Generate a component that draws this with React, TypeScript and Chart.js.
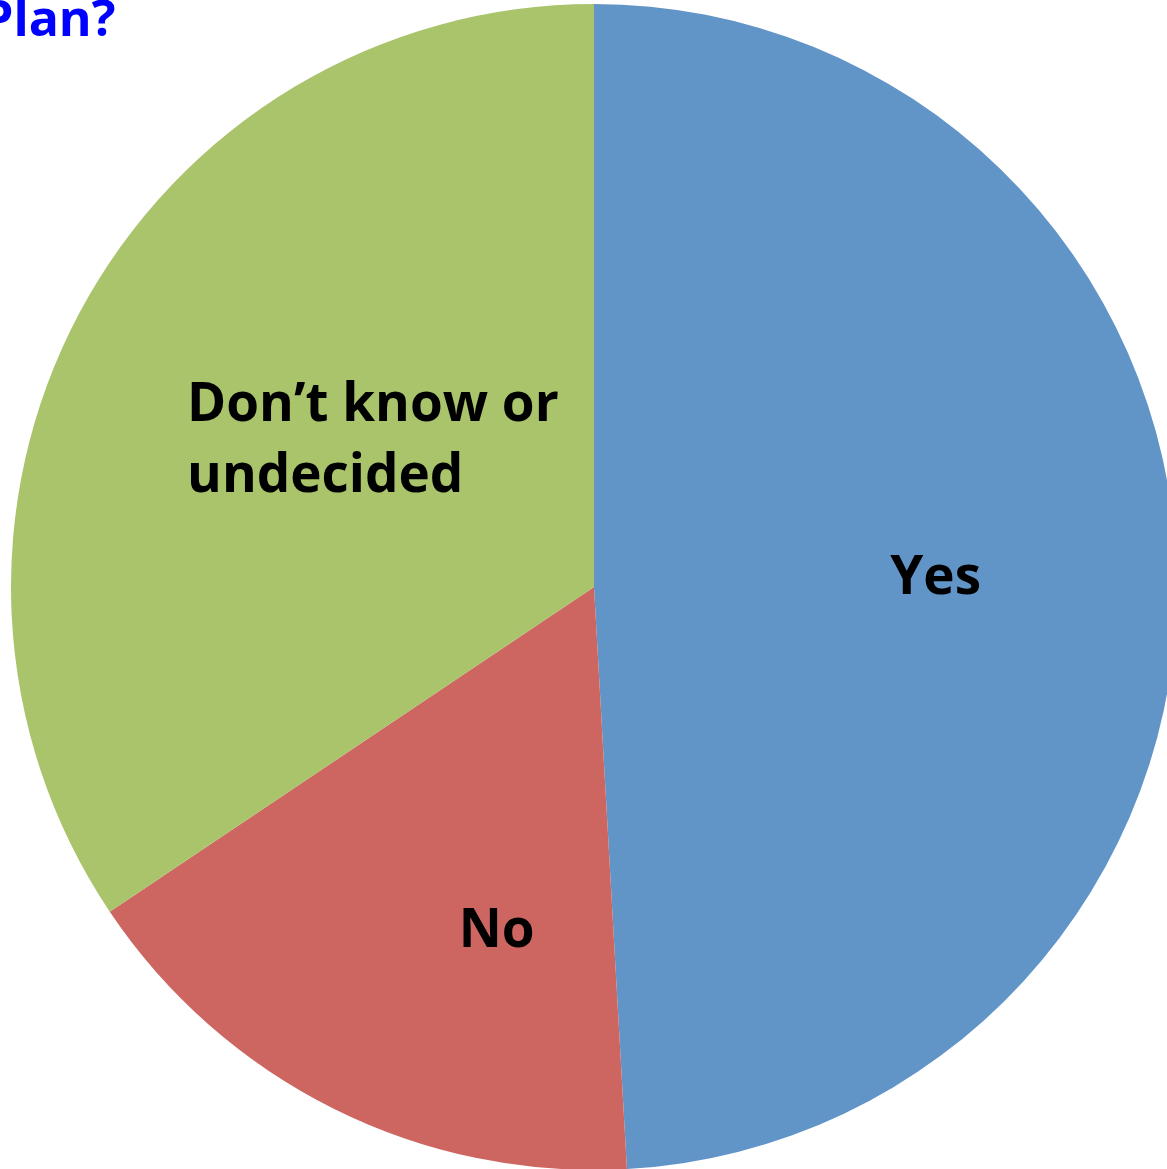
import React, { useEffect, useRef } from "react";
import { Chart, registerables } from "chart.js";

Chart.register(...registerables);

const categories = ["Yes", "No", "Don\u2019t know or undecided"];
const values = [49.1, 16.5, 34.4];
const colors = ["#6194C7", "#CD6660", "#AAC46C"];
const labelLines = [["Yes"], ["No"], ["Don\u2019t know or", "undecided"]];
const titleText = "Plan?";

// label placement (relative to pie center, fractions of radius)
const labelPos = [
  { dx: 0.586, dy: -0.014, align: "center" },
  { dx: -0.167, dy: 0.591, align: "center" },
  { dx: -0.698, dy: -0.249, align: "left" },
];

const FONT = "'Open Sans', Lato, sans-serif";

const labelPlugin = {
  id: "sliceLabels",
  afterDatasetsDraw(chart: any) {
    const meta = chart.getDatasetMeta(0);
    const ctx = chart.ctx;
    ctx.save();
    ctx.fillStyle = "#000";
    ctx.font = "bold 53px " + FONT;
    ctx.textBaseline = "middle";
    meta.data.forEach((arc: any, i: number) => {
      const r = arc.outerRadius;
      const p = labelPos[i];
      const x = arc.x + p.dx * r;
      const y = arc.y + p.dy * r;
      ctx.textAlign = p.align;
      const lines = labelLines[i];
      const lh = 71;
      lines.forEach((ln: string, j: number) => {
        ctx.fillText(ln, x, y + (j - (lines.length - 1) / 2) * lh);
      });
    });
    ctx.restore();
  },
};

export default function App() {
  const ref = useRef<HTMLCanvasElement | null>(null);
  useEffect(() => {
    document.body.style.margin = "0";
    const chart = new Chart(ref.current!, {
      type: "pie",
      data: {
        labels: categories,
        datasets: [
          {
            data: values,
            backgroundColor: colors,
            borderColor: colors,
            borderWidth: 0,
          },
        ],
      },
      options: {
        animation: false,
        responsive: false,
        maintainAspectRatio: false,
        layout: { padding: 0 },
        plugins: {
          legend: { display: false },
          tooltip: { enabled: false },
          title: { display: false },
        },
      },
      plugins: [labelPlugin],
    });
    return () => chart.destroy();
  }, []);
  return (
    <div
      style={{
        position: "fixed",
        left: 0,
        top: 0,
        width: 1167,
        height: 1169,
        overflow: "hidden",
        background: "#fff",
      }}
    >
      <canvas
        ref={ref}
        width={1166}
        height={1166}
        style={{ position: "absolute", left: 11, top: 4, width: 1166, height: 1166 }}
      />
      <div
        style={{
          position: "absolute",
          left: -18,
          top: -13,
          color: "#0000FF",
          font: "bold 50px " + FONT,
          whiteSpace: "nowrap",
          lineHeight: "60px",
        }}
      >
        {titleText}
      </div>
    </div>
  );
}
